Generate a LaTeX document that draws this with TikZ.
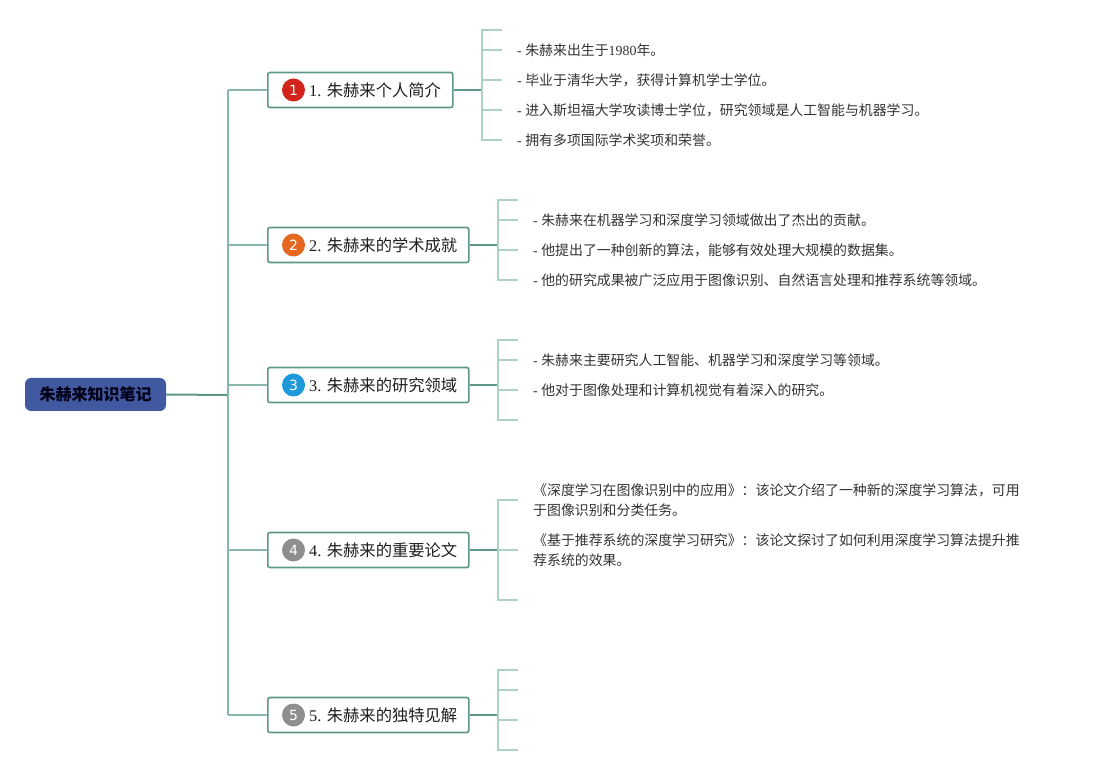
\documentclass[tikz,border=0pt]{standalone}
\usepackage{fontspec}
\setmainfont{Noto Sans CJK SC}
\newfontfamily\lat{Liberation Serif}
\newfontfamily\badgefont{DejaVu Sans}

\definecolor{rootblue}{HTML}{4159A0}
\definecolor{darkteal}{HTML}{5E9787}
\definecolor{midteal}{HTML}{88B6AA}
\definecolor{lightteal}{HTML}{ADD0C7}
\definecolor{badgered}{HTML}{D2241A}
\definecolor{badgeorange}{HTML}{E5661E}
\definecolor{badgeblue}{HTML}{1E9ADA}
\definecolor{badgegray}{HTML}{8E8E8E}

\tikzset{
  rootnode/.style={rounded corners=6pt, fill=rootblue, minimum width=141,
    minimum height=33, text=black!90!blue, font=\fontsize{16}{18}\selectfont\bfseries},
  branchbox/.style={draw=darkteal, line width=1.6pt, rounded corners=2pt, fill=white,
    minimum height=35, anchor=west},
  badge/.style={circle, minimum size=23, inner sep=0pt, text=white,
    font=\badgefont\fontsize{14}{14}\selectfont},
  branchtext/.style={anchor=west, inner sep=1pt, text=black!88,
    font=\fontsize{16.3}{20}\selectfont},
  leaftext/.style={anchor=west, inner xsep=15pt, inner ysep=1pt, text=black!80,
    align=left, font=\fontsize{13.9}{20}\selectfont},
  rootline/.style={draw=darkteal, line width=2pt},
  trunkline/.style={draw=midteal, line width=1.8pt},
  branchline/.style={draw=darkteal, line width=1.8pt},
  leafline/.style={draw=lightteal, line width=1.5pt}
}

\begin{document}
\begin{tikzpicture}[x=1pt, y=-1pt]
\useasboundingbox (0,0) rectangle (1093,775);

%% root
\node[rootnode] (root) at (95.5,394.5) {朱赫来知识笔记};

%% branch boxes
\node[branchbox, minimum width=185] (b1) at (267,90)  {};   %% 个人简介
\node[branchbox, minimum width=201] (b2) at (267,245) {};   %% 学术成就
\node[branchbox, minimum width=201] (b3) at (267,385) {};   %% 研究领域
\node[branchbox, minimum width=201] (b4) at (267,550) {};   %% 重要论文
\node[branchbox, minimum width=201] (b5) at (267,715) {};   %% 独特见解

%% badges
\node[badge, fill=badgered]    (i1) at (293.5,90)  {1};
\node[badge, fill=badgeorange] (i2) at (293.5,245) {2};
\node[badge, fill=badgeblue]   (i3) at (293.5,385) {3};
\node[badge, fill=badgegray]   (i4) at (293.5,550) {4};
\node[badge, fill=badgegray]   (i5) at (293.5,715) {5};

%% branch labels
\node[branchtext] (t1) at (308,90)  {{\lat 1. }朱赫来个人简介};
\node[branchtext] (t2) at (308,245) {{\lat 2. }朱赫来的学术成就};
\node[branchtext] (t3) at (308,385) {{\lat 3. }朱赫来的研究领域};
\node[branchtext] (t4) at (308,550) {{\lat 4. }朱赫来的重要论文};
\node[branchtext] (t5) at (308,715) {{\lat 5. }朱赫来的独特见解};

%% leaf texts
\node[leaftext] (l1a) at (502,50)  {{\lat - }朱赫来出生于{\lat 1980}年。};
\node[leaftext] (l1b) at (502,80)  {{\lat - }毕业于清华大学，获得计算机学士学位。};
\node[leaftext] (l1c) at (502,110) {{\lat - }进入斯坦福大学攻读博士学位，研究领域是人工智能与机器学习。};
\node[leaftext] (l1d) at (502,140) {{\lat - }拥有多项国际学术奖项和荣誉。};
\node[leaftext] (l2a) at (518,220) {{\lat - }朱赫来在机器学习和深度学习领域做出了杰出的贡献。};
\node[leaftext] (l2b) at (518,250) {{\lat - }他提出了一种创新的算法，能够有效处理大规模的数据集。};
\node[leaftext] (l2c) at (518,280) {{\lat - }他的研究成果被广泛应用于图像识别、自然语言处理和推荐系统等领域。};
\node[leaftext] (l3a) at (518,360) {{\lat - }朱赫来主要研究人工智能、机器学习和深度学习等领域。};
\node[leaftext] (l3b) at (518,390) {{\lat - }他对于图像处理和计算机视觉有着深入的研究。};
\node[leaftext] (l4a) at (518,500) {《深度学习在图像识别中的应用》：该论文介绍了一种新的深度学习算法，可用\\于图像识别和分类任务。};
\node[leaftext] (l4b) at (518,550) {《基于推荐系统的深度学习研究》：该论文探讨了如何利用深度学习算法提升推\\荐系统的效果。};

%% joints and empty leaves
\coordinate (tr) at (228,395);
\coordinate (tt) at (228,90);
\coordinate (tb) at (228,715);
\coordinate (j1) at (482,90);
\coordinate (j2) at (498,245);
\coordinate (j3) at (498,385);
\coordinate (j4) at (498,550);
\coordinate (j5) at (498,715);
\coordinate (e1) at (502,30);
\coordinate (e2) at (518,200);
\coordinate (e3a) at (518,340);
\coordinate (e3b) at (518,420);
\coordinate (e4) at (518,600);
\coordinate (e5a) at (518,670);
\coordinate (e5b) at (518,690);
\coordinate (e5c) at (518,720);
\coordinate (e5d) at (518,750);

%%% edges
\draw[rootline] (root.east) -- (tr);
\draw[trunkline] (tt) -- (tb);
\draw[trunkline] (tt) -- (b1.west);
\draw[trunkline] (tt |- b2.west) -- (b2.west);
\draw[trunkline] (tt |- b3.west) -- (b3.west);
\draw[trunkline] (tt |- b4.west) -- (b4.west);
\draw[trunkline] (tb) -- (b5.west);

\draw[branchline] (b1.east) -- (j1);
\draw[branchline] (b2.east) -- (j2);
\draw[branchline] (b3.east) -- (j3);
\draw[branchline] (b4.east) -- (j4);
\draw[branchline] (b5.east) -- (j5);

%% group 1
\draw[leafline] (e1) -| (j1) |- (l1d.west);
\draw[leafline] (l1a.west -| j1) -- (l1a.west);
\draw[leafline] (l1b.west -| j1) -- (l1b.west);
\draw[leafline] (l1c.west -| j1) -- (l1c.west);
%% group 2
\draw[leafline] (e2) -| (j2) |- (l2c.west);
\draw[leafline] (l2a.west -| j2) -- (l2a.west);
\draw[leafline] (l2b.west -| j2) -- (l2b.west);
%% group 3
\draw[leafline] (e3a) -| (j3) |- (e3b);
\draw[leafline] (l3a.west -| j3) -- (l3a.west);
\draw[leafline] (l3b.west -| j3) -- (l3b.west);
%% group 4
\draw[leafline] (l4a.west) -| (j4) |- (e4);
\draw[leafline] (l4b.west -| j4) -- (l4b.west);
%% group 5
\draw[leafline] (e5a) -| (j5) |- (e5d);
\draw[leafline] (e5b -| j5) -- (e5b);
\draw[leafline] (e5c -| j5) -- (e5c);
\end{tikzpicture}
\end{document}
